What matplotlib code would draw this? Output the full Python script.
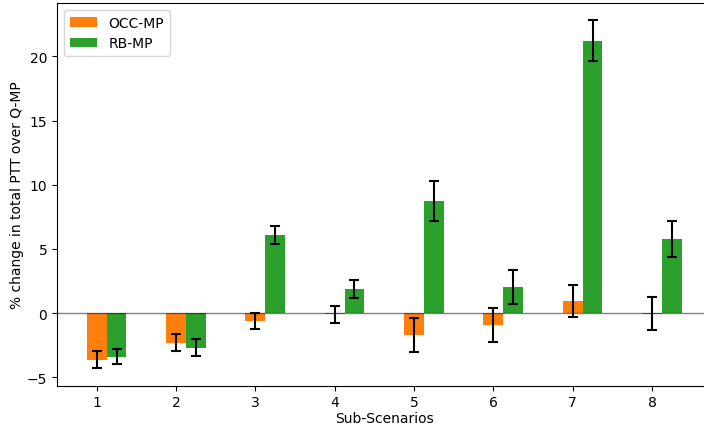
import numpy as np
from matplotlib import pyplot as plt

scenarios = [1, 2, 3, 4, 5, 6, 7, 8]
occ = [-3.63, -2.31, -0.60, -0.10, -1.69, -0.91, 0.93, -0.05]
occ_err = [0.66, 0.65, 0.63, 0.66, 1.34, 1.34, 1.26, 1.30]
rb = [-3.40, -2.70, 6.07, 1.87, 8.71, 2.02, 21.23, 5.77]
rb_err = [0.60, 0.65, 0.70, 0.70, 1.55, 1.35, 1.57, 1.39]

w = 0.25
x = np.array(scenarios)

fig = plt.figure(figsize=(7.04, 4.27), dpi=100)
# axes extends past the right edge (cropped figure)
ax = fig.add_axes([57/704, 1-386.5/427, 654.5/704, 382.5/427])

ax.bar(x, occ, w, yerr=occ_err, color='tab:orange', label='OCC-MP',
       capsize=3.6, error_kw=dict(elinewidth=1.5, capthick=1.5))
ax.bar(x + w, rb, w, yerr=rb_err, color='tab:green', label='RB-MP',
       capsize=3.6, error_kw=dict(elinewidth=1.5, capthick=1.5))
ax.axhline(0, color='black', lw=1, alpha=0.5)

ax.set_xticks(x)
ax.set_xticklabels([str(s) for s in scenarios])
ax.set_xlabel('Sub-Scenarios', labelpad=1.5)
ax.set_ylabel('% change in total PTT over Q-MP', labelpad=2)
ax.legend(loc='upper left')

plt.savefig('out.png', dpi=100)
